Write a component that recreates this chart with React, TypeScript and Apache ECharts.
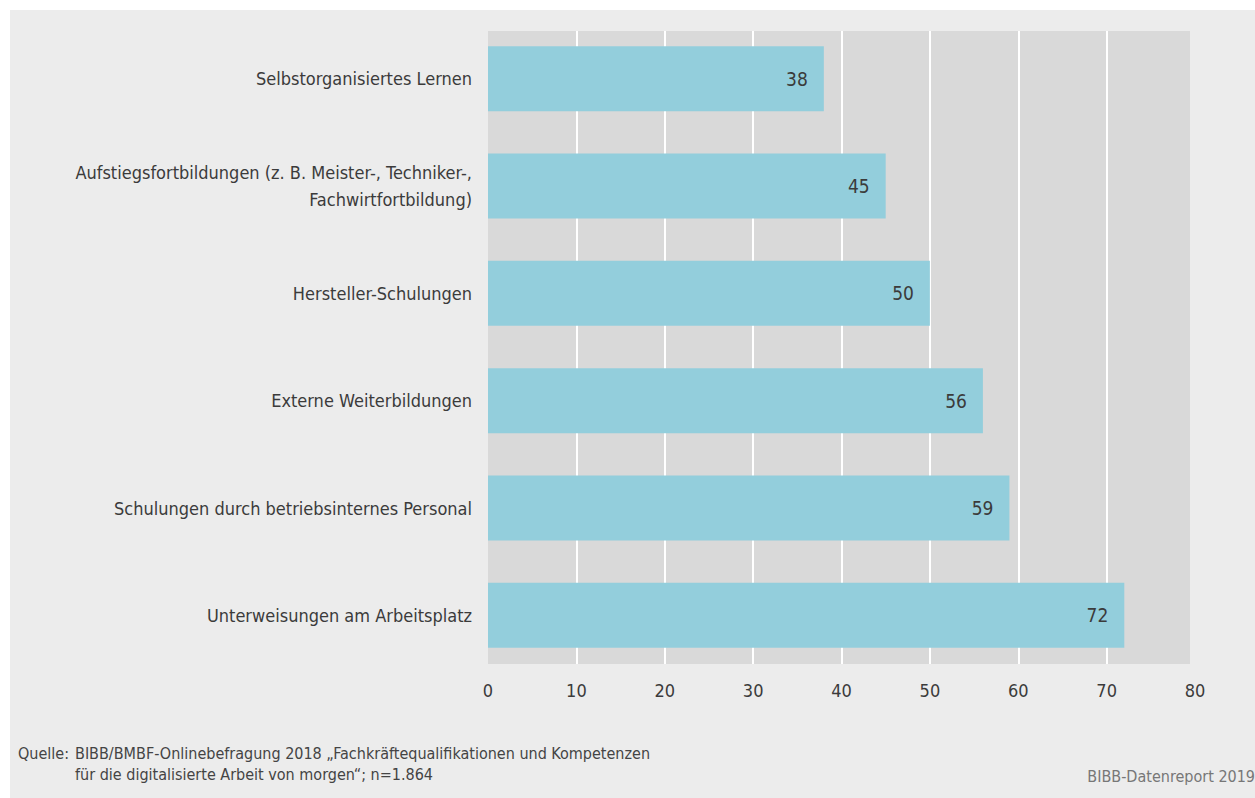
import React, { useEffect, useRef } from "react";
import * as echarts from "echarts";

const categories = [
  "Selbstorganisiertes Lernen",
  "Aufstiegsfortbildungen (z. B. Meister-, Techniker-,\nFachwirtfortbildung)",
  "Hersteller-Schulungen",
  "Externe Weiterbildungen",
  "Schulungen durch betriebsinternes Personal",
  "Unterweisungen am Arbeitsplatz",
];
const values = [38, 45, 50, 56, 59, 72];
const axisMin = 0;
const axisMax = 80;
const axisInterval = 10;
const sourceLabel = "Quelle:";
const sourceLines = [
  "BIBB/BMBF-Onlinebefragung 2018 \u201EFachkr\u00E4ftequalifikationen und Kompetenzen",
  "f\u00FCr die digitalisierte Arbeit von morgen\u201C; n=1.864",
];
const reportLabel = "BIBB-Datenreport 2019";

const FONT = "'Liberation Sans Narrow', 'DejaVu Sans Condensed', 'Roboto Condensed', sans-serif";

export default function App() {
  const ref = useRef<HTMLDivElement>(null);
  useEffect(() => {
    if (!ref.current) return;
    const chart = echarts.init(ref.current, undefined, { renderer: "svg" });
    chart.setOption({
      animation: false,
      backgroundColor: "#ffffff",
      textStyle: { fontFamily: FONT },
      graphic: [
        {
          type: "rect",
          z: -10,
          silent: true,
          shape: { x: 10, y: 10, width: 1245, height: 788 },
          style: { fill: "#ececec" },
        },
        {
          type: "rect",
          z: -9,
          silent: true,
          shape: { x: 488, y: 31, width: 702, height: 633 },
          style: { fill: "#d9d9d9" },
        },
        {
          type: "text",
          left: 18,
          top: 743,
          style: { text: sourceLabel, fontSize: 16, lineHeight: 21, fill: "#444", fontFamily: FONT },
        },
        {
          type: "text",
          left: 75,
          top: 743,
          style: { text: sourceLines.join("\n"), fontSize: 16, lineHeight: 21, fill: "#444", fontFamily: FONT },
        },
        {
          type: "text",
          right: 0,
          top: 768,
          style: { text: reportLabel, fontSize: 16, fill: "#777", fontFamily: FONT },
        },
      ],
      grid: [
        { left: 488, top: 31, width: 707, height: 633, containLabel: false },
        { left: 488, top: 25, width: 707, height: 644, containLabel: false },
      ],
      xAxis: [
        {
          type: "value",
          gridIndex: 0,
          min: axisMin,
          max: axisMax,
          interval: axisInterval,
          axisLine: { show: false },
          axisTick: { show: false },
          axisLabel: { color: "#3b3b3b", fontSize: 18, margin: 17, fontFamily: FONT },
          splitLine: { show: true, showMinLine: false, showMaxLine: false, lineStyle: { color: "#ffffff", width: 2 } },
        },
        {
          type: "value",
          gridIndex: 1,
          min: axisMin,
          max: axisMax,
          interval: axisInterval,
          show: false,
          splitLine: { show: false },
        },
      ],
      yAxis: [
        {
          type: "category",
          gridIndex: 0,
          data: categories,
          inverse: true,
          show: false,
        },
        {
          type: "category",
          gridIndex: 1,
          data: categories,
          inverse: true,
          axisLine: { show: false },
          axisTick: { show: false },
          splitLine: { show: false },
          axisLabel: {
            color: "#3b3b3b",
            fontSize: 18,
            lineHeight: 27,
            margin: 16,
            align: "right",
            fontFamily: FONT,
          },
        },
      ],
      series: [
        {
          type: "bar",
          xAxisIndex: 1,
          yAxisIndex: 1,
          data: values,
          barWidth: 65,
          itemStyle: { color: "#93cedc" },
          label: {
            show: true,
            position: "insideRight",
            distance: 16,
            color: "#3b3b3b",
            fontSize: 19,
            fontFamily: FONT,
          },
        },
      ],
    });
    return () => chart.dispose();
  }, []);
  return (
    <div
      ref={ref}
      style={{ position: "fixed", left: 0, top: 0, width: 1255, height: 798 }}
    />
  );
}
